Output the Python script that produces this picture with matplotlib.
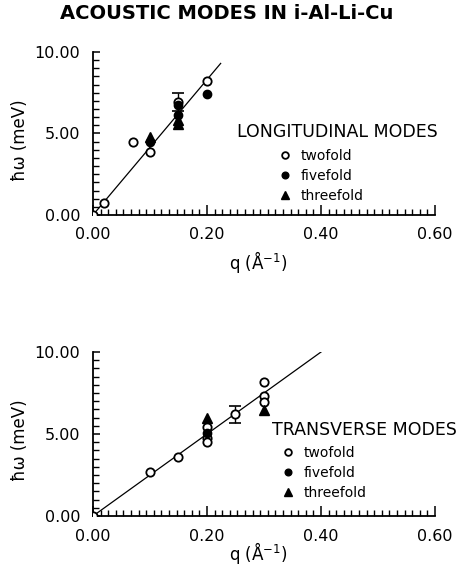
import matplotlib
matplotlib.use("Agg")
import matplotlib.pyplot as plt
from matplotlib.ticker import MultipleLocator, FormatStrFormatter

plt.rcParams['font.family'] = ['DejaVu Sans']

# ---- Longitudinal modes ----
lon_two_q = [0.0, 0.02, 0.07, 0.10, 0.15, 0.20]
lon_two_E = [0.0, 0.75, 4.45, 3.85, 6.95, 8.25]
lon_five_q = [0.10, 0.15, 0.15, 0.20]
lon_five_E = [4.50, 6.75, 6.15, 7.45]
lon_three_q = [0.10, 0.15, 0.15]
lon_three_E = [4.80, 5.85, 5.60]
lon_err_q = [0.15]
lon_err_E = [6.95]
lon_err = [0.55]
lon_fit_q = [0.0, 0.224]
lon_fit_E = [0.0, 9.30]

# ---- Transverse modes ----
tr_two_q = [0.0, 0.10, 0.15, 0.20, 0.20, 0.20, 0.25, 0.30, 0.30, 0.30]
tr_two_E = [0.0, 2.70, 3.60, 5.45, 4.75, 4.50, 6.20, 8.20, 7.30, 6.95]
tr_five_q = [0.20]
tr_five_E = [5.05]
tr_three_q = [0.20, 0.30]
tr_three_E = [6.00, 6.45]
tr_err_q = [0.25]
tr_err_E = [6.20]
tr_err = [0.50]
tr_fit_q = [0.0, 0.402]
tr_fit_E = [0.0, 10.05]

x_major = [0.0, 0.2, 0.4, 0.6]
y_major = [0.0, 5.0, 10.0]
series_labels = ['twofold', 'fivefold', 'threefold']

fig = plt.figure(figsize=(4.59, 5.79), dpi=100)
fig.text(0.493, 0.977, 'ACOUSTIC MODES IN i-Al-Li-Cu', ha='center', va='center',
         fontsize=14, fontweight='bold')

ax1 = fig.add_axes([0.2026, 0.6287, 0.745, 0.2815])
ax2 = fig.add_axes([0.2026, 0.1088, 0.745, 0.2832])


def draw(ax, two_q, two_E, five_q, five_E, three_q, three_E,
         err_q, err_E, err, fit_q, fit_E, title, title_xy, leg_xy, xlab_y):
    ax.plot(fit_q, fit_E, color='black', lw=0.9, zorder=2)
    ax.errorbar(err_q, err_E, yerr=err, fmt='none', ecolor='black',
                elinewidth=1.0, capsize=4, capthick=1.2, zorder=3)
    h2, = ax.plot(two_q, two_E, 'o', ms=6, mfc='white', mec='black', mew=1.3,
                  ls='none', zorder=4)
    h5, = ax.plot(five_q, five_E, 'o', ms=6, mfc='black', mec='black',
                  ls='none', zorder=5)
    h3, = ax.plot(three_q, three_E, '^', ms=6.5, mfc='black', mec='black',
                  ls='none', zorder=5)

    ax.set_xlim(0, 0.6)
    ax.set_ylim(0, 10)
    for s in ('top', 'right'):
        ax.spines[s].set_visible(False)
    for s in ('left', 'bottom'):
        ax.spines[s].set_linewidth(1.3)

    ax.set_xticks(x_major)
    ax.set_yticks(y_major)
    ax.xaxis.set_minor_locator(MultipleLocator(0.2 / 15))
    ax.yaxis.set_minor_locator(MultipleLocator(0.5))
    ax.xaxis.set_major_formatter(FormatStrFormatter('%.2f'))
    ax.yaxis.set_major_formatter(FormatStrFormatter('%.2f'))
    ax.tick_params(axis='x', which='major', direction='in', length=7, width=1.1,
                   pad=9, labelsize=11.5)
    ax.tick_params(axis='y', which='major', direction='in', length=5, width=1.1,
                   pad=9, labelsize=11.5)
    ax.tick_params(which='minor', direction='in', length=4.5, width=1.0)

    ax.set_ylabel('ħω (meV)', fontsize=12, va='center')
    ax.yaxis.set_label_coords(-0.213, 0.46)
    ax.set_xlabel('q (Å$^{-1}$)', fontsize=12, va='center')
    ax.xaxis.set_label_coords(0.482, xlab_y)

    # legend heading and entries
    ax.text(title_xy[0], title_xy[1], title, transform=ax.transAxes,
            ha='center', va='center', fontsize=12.5, clip_on=False)
    ax.legend([h2, h5, h3], series_labels, frameon=False,
              loc='upper left', bbox_to_anchor=leg_xy, fontsize=10,
              handlelength=0.8, handletextpad=0.75,
              labelspacing=0.42, borderpad=0, borderaxespad=0,
              markerscale=0.8)


draw(ax1, lon_two_q, lon_two_E, lon_five_q, lon_five_E, lon_three_q, lon_three_E,
     lon_err_q, lon_err_E, lon_err, lon_fit_q, lon_fit_E,
     'LONGITUDINAL MODES', (0.715, 0.51), (0.545, 0.405), -0.29)
draw(ax2, tr_two_q, tr_two_E, tr_five_q, tr_five_E, tr_three_q, tr_three_E,
     tr_err_q, tr_err_E, tr_err, tr_fit_q, tr_fit_E,
     'TRANSVERSE MODES', (0.795, 0.524), (0.553, 0.425), -0.225)

fig.savefig('out.png', dpi=100)
